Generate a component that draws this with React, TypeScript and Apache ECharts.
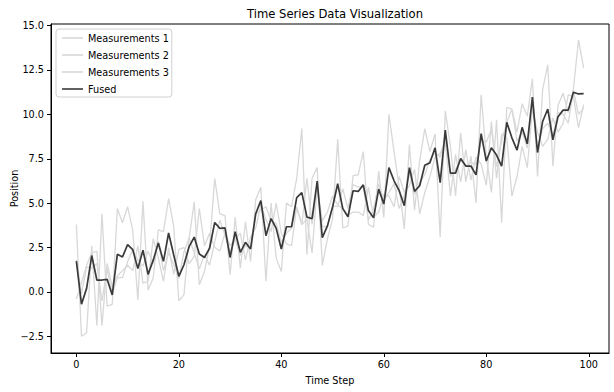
import React, { useEffect, useRef } from "react";
import * as echarts from "echarts";

const fused = [1.73,-0.69,0.2,2.05,0.67,0.67,0.71,-0.17,2.12,1.97,
2.66,2.38,1.32,2.35,0.99,1.79,2.75,1.72,3.32,2.08,
0.88,1.53,2.55,3.09,2.14,1.94,2.46,3.91,3.58,3.61,
1.94,3.39,2.23,2.79,2.42,4.4,5.14,3.17,4.13,3.58,
2.42,3.67,3.67,5.31,5.59,4.21,4.13,6.24,3.06,3.72,
4.78,6.09,4.69,4.23,5.70,5.66,6.03,4.58,4.17,5.79,
4.95,7.0,6.26,5.70,4.86,7.0,5.66,5.98,7.13,7.28,
8.12,6.16,9.11,6.69,6.69,7.52,7.09,7.09,6.59,8.92,
7.37,8.12,7.71,7.09,9.55,8.68,7.99,9.27,8.34,10.97,
7.85,9.6,10.3,8.57,9.87,10.24,10.24,11.25,11.15,11.17];

const meas1 = [3.8,-2.5,-2.3,2.6,-1.9,4.4,-0.8,-0.7,4.7,3.9,
4.8,3.5,-0.45,5.1,0.1,0.8,3.5,3.4,5.25,3.7,
-0.5,-0.15,3.0,5.07,0.4,1.15,2.6,6.4,4.4,4.3,
0.97,4.2,1.34,3.95,1.7,5.2,5.9,0.6,5.0,1.9,
1.15,5.0,4.8,6.4,9.2,2.1,6.4,7.0,1.5,3.0,
4.1,8.6,3.6,3.7,6.55,6.6,7.9,3.8,3.65,6.8,
4.2,10.0,7.9,5.9,3.55,8.3,4.6,7.4,9.2,7.9,
8.9,3.1,10.2,8.2,5.4,8.96,6.2,7.65,5.0,11.1,
7.65,5.6,9.7,3.9,10.4,10.3,9.0,10.6,9.9,12.0,
6.5,11.4,12.8,7.1,10.5,11.2,10.1,11.4,14.2,12.6];

const meas2 = [-0.4,0.5,1.5,2.2,2.3,-1.9,1.6,0.3,0.9,1.2,
1.5,1.2,2.6,0.5,0.6,3.0,1.9,0.6,2.5,1.0,
2.4,2.5,1.6,2.0,4.7,2.6,3.3,2.5,2.3,3.3,
2.6,3.0,3.3,1.8,3.1,3.6,4.9,4.1,3.4,5.0,
3.3,2.7,2.6,4.8,3.8,4.1,2.2,5.9,4.0,4.5,
5.4,4.9,4.7,4.3,4.5,4.5,4.3,5.9,4.2,4.5,
5.5,5.4,4.8,6.5,5.6,6.0,6.9,4.4,5.6,6.5,
7.6,7.8,8.5,5.4,7.75,6.2,8.0,6.3,7.6,7.2,
6.0,9.6,6.4,8.9,8.7,5.4,6.5,8.2,7.0,10.3,
9.0,8.2,8.6,9.8,9.0,9.5,11.1,11.0,9.25,10.55];

const meas3 = [1.8,-0.1,1.4,1.35,1.6,-0.5,1.3,-0.1,0.8,0.8,
1.7,2.4,1.8,1.45,2.3,1.6,2.85,1.2,2.2,1.55,
0.75,2.25,3.05,2.2,1.3,2.1,1.5,2.8,4.05,3.2,
2.25,2.95,2.05,2.6,2.45,4.4,4.6,4.8,4.0,3.85,
2.8,3.3,3.6,4.75,3.8,6.4,3.8,5.8,3.7,3.65,
4.85,4.8,5.8,4.7,6.05,5.9,5.9,4.05,4.65,6.1,
5.15,5.6,6.1,4.7,5.45,6.7,5.5,6.15,6.6,7.45,
7.85,7.6,8.6,6.5,6.9,7.4,7.1,7.3,7.2,8.5,
8.45,9.15,7.05,8.5,9.55,10.3,8.5,9.0,8.1,10.6,
8.05,9.2,9.5,8.8,10.1,10.0,9.5,11.35,10.0,10.35];

const xTicks = [0, 20, 40, 60, 80, 100];
const yTicks = [-2.5, 0, 2.5, 5, 7.5, 10, 12.5, 15];
const legendNames = ["Measurements 1", "Measurements 2", "Measurements 3", "Fused"];

const FONT = "DejaVu Sans";
const FS = 9.7;
const MEAS_COLOR = "#d8d8d8";
const FUSED_COLOR = "#3a3a3a";

function toPairs(arr: number[]) {
  return arr.map((v, i) => [i, v]);
}

export default function App() {
  const ref = useRef<HTMLDivElement>(null);
  useEffect(() => {
    if (!ref.current) return;
    const chart = echarts.init(ref.current, null, { renderer: "svg" });
    const mkMeas = (name: string, arr: number[]) => ({
      name,
      type: "line",
      data: toPairs(arr),
      symbol: "none",
      lineStyle: { color: MEAS_COLOR, width: 1.3 },
      itemStyle: { color: MEAS_COLOR },
      z: 2,
    });
    chart.setOption({
      animation: false,
      title: {
        text: "Time Series Data Visualization",
        left: 330,
        top: 3,
        textAlign: "center",
        textStyle: { fontSize: 11.6, fontWeight: "normal", color: "#000", fontFamily: FONT },
      },
      legend: {
        orient: "vertical",
        left: 56,
        top: 29,
        icon: "rect",
        itemWidth: 21,
        itemHeight: 1.6,
        itemGap: 5,
        padding: [3, 3, 2, 6],
        borderColor: "#d0d0d0",
        borderWidth: 1,
        borderRadius: 3,
        backgroundColor: "rgba(255,255,255,0.8)",
        textStyle: { fontSize: FS, lineHeight: 12, fontFamily: FONT, color: "#000" },
        data: legendNames,
      },
      grid: {
        left: 51,
        top: 24,
        right: 5,
        bottom: 39,
        show: true,
        borderColor: "#000",
        borderWidth: 1,
        backgroundColor: "transparent",
        containLabel: false,
        outerBoundsMode: "none",
      },
      xAxis: {
        type: "value",
        min: -4.95,
        max: 103.95,
        name: "Time Step",
        nameLocation: "middle",
        nameGap: 22,
        nameMoveOverlap: false,
        nameTextStyle: { fontSize: FS, fontFamily: FONT, color: "#000" },
        axisLine: { show: true, onZero: false, lineStyle: { color: "#000", width: 1 } },
        axisTick: { show: true, inside: false, length: 4, customValues: xTicks, lineStyle: { color: "#000" } },
        axisLabel: {
          customValues: xTicks,
          margin: 6,
          fontSize: FS,
          fontFamily: FONT,
          color: "#000",
          formatter: (v: number) => String(Math.round(v)),
        },
        splitLine: { show: false },
      },
      yAxis: {
        type: "value",
        min: -3.44,
        max: 15.09,
        name: "Position",
        nameLocation: "middle",
        nameGap: 32,
        nameMoveOverlap: false,
        nameTextStyle: { fontSize: FS, fontFamily: FONT, color: "#000" },
        axisLine: { show: true, onZero: false, lineStyle: { color: "#000", width: 1 } },
        axisTick: { show: true, inside: false, length: 4, customValues: yTicks, lineStyle: { color: "#000" } },
        axisLabel: {
          customValues: yTicks,
          margin: 7,
          fontSize: FS,
          fontFamily: FONT,
          color: "#000",
          formatter: (v: number) => (v < 0 ? "\u2212" + Math.abs(v).toFixed(1) : v.toFixed(1)),
        },
        splitLine: { show: false },
      },
      series: [
        mkMeas(legendNames[0], meas1),
        mkMeas(legendNames[1], meas2),
        mkMeas(legendNames[2], meas3),
        {
          name: legendNames[3],
          type: "line",
          data: toPairs(fused),
          symbol: "none",
          lineStyle: { color: FUSED_COLOR, width: 1.7 },
          itemStyle: { color: FUSED_COLOR },
          z: 5,
        },
      ],
    });
    return () => chart.dispose();
  }, []);
  return (
    <div
      ref={ref}
      style={{ position: "absolute", left: 0, top: 0, width: 614, height: 392, background: "#fff" }}
    />
  );
}
